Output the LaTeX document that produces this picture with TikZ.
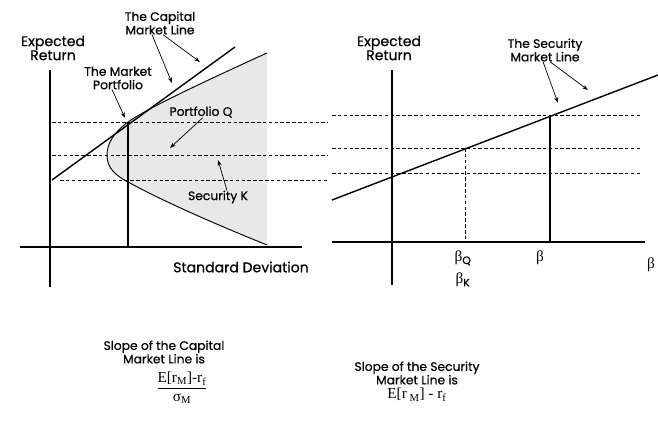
\documentclass[tikz,border=0pt]{standalone}
\usepackage{fontspec}
\setmainfont{Poppins}[UprightFeatures={FakeBold=0.6}]
\newfontfamily\formfont{Liberation Serif}
\usetikzlibrary{arrows.meta}
\begin{document}
\begin{tikzpicture}[x=0.03cm, y=-0.03cm,
    lbl/.style={align=center, font=\fontsize{10.5}{11.5}\selectfont, inner sep=0pt},
    axlbl/.style={lbl, font=\fontsize{12}{12}\selectfont},
    frm/.style={inner sep=0pt, font=\formfont\fontsize{13}{15}\selectfont},
    ptr/.style={-{Stealth[length=5pt,width=3.5pt]}, line width=0.6pt},
    guide/.style={densely dashed, line width=0.6pt},
    axis/.style={line width=0.9pt}]
    \useasboundingbox (0,0) rectangle (658,428);

    % left panel: capital market line
    \fill[gray!18] (267,53) .. controls (190,88) and (145,110) .. (128,122)
        .. controls (112,134) and (107,145) .. (107,155)
        .. controls (107,168) and (115,175) .. (128,182)
        .. controls (170,205) and (230,230) .. (267,245) -- cycle;
    \draw[axis] (20,247) -- (302,247);
    \draw[axis] (50,70) -- (50,287);
    \foreach \y/\s in {122/52, 155/52, 180/60}
        \draw[guide] (\s,\y) -- (328,\y);
    \draw[axis] (128,122) -- (128,247);
    \draw[line width=0.8pt] (267,53) .. controls (190,88) and (145,110) .. (128,122)
        .. controls (112,134) and (107,145) .. (107,155)
        .. controls (107,168) and (115,175) .. (128,182)
        .. controls (170,205) and (230,230) .. (267,245);
    \draw[line width=1.2pt] (52,180) -- (235,47);

    \coordinate (cmlA) at (172,83);
    \coordinate (cmlB) at (200,62);
    \coordinate (mkt) at (125,118);
    \coordinate (ptQ) at (170,148);
    \coordinate (secK) at (218,160);

    \node[axlbl] (erL) at (53,48) {Expected\\Return};
    \node[lbl] (cml) at (160,23) {The Capital\\Market Line};
    \node[lbl] (mp) at (118,78) {The Market\\Portfolio};
    \node[lbl] (pq) at (201,112) {Portfolio Q};
    \node[lbl] (sk) at (218,197) {Security K};
    \node[axlbl] (sd) at (241,267) {Standard Deviation};

    \draw[ptr] ([xshift=-0.24cm]cml.south) -- (cmlA);
    \draw[ptr] ([xshift=0.09cm]cml.south) -- (cmlB);
    \draw[ptr] ([xshift=-0.18cm]mp.south) -- (mkt);
    \draw[ptr] ([xshift=0.05cm]pq.south) -- (ptQ);
    \draw[ptr] ([xshift=0.27cm]sk.north) -- (secK);

    % right panel: security market line
    \draw[axis] (332,242) -- (645,242);
    \draw[axis] (392,70) -- (392,285);
    \foreach \y in {115,148,173}
        \draw[guide] (332,\y) -- (640,\y);
    \draw[guide] (465,148) -- (465,242);
    \draw[axis] (550,115) -- (550,242);
    \draw[line width=1.2pt] (332,200) -- (658,75);

    \coordinate (smlA) at (558,103);
    \coordinate (smlB) at (588,90);

    \node[axlbl] (erR) at (389,48) {Expected\\Return};
    \node[lbl] (sml) at (545,50) {The Security\\Market Line};
    \draw[ptr] ([xshift=-0.06cm]sml.south) -- (smlA);
    \draw[ptr] ([xshift=0.15cm]sml.south) -- (smlB);

    \node[frm] (bq) at (463,258) {β\textsubscript{\rmfamily Q}};
    \node[frm] (bk) at (463,280) {β\textsubscript{\rmfamily K}};
    \node[frm] (bm) at (540,258) {β};
    \node[frm] (bx) at (651,265) {β};

    % slopes
    \node[lbl] (cmlslope) at (164,352) {Slope of the Capital\\Market Line is};
    \node[frm] (cmlfrac) at (182,388)
        {$\displaystyle\frac{\mbox{E[r\textsubscript{M}]-r\textsubscript{f}}}{\mbox{σ\textsubscript{M}}}$};
    \node[lbl] (smlslope) at (417,373) {Slope of the Security\\Market Line is};
    \node[frm] (smlform) at (417,395) {E[r\textsubscript{ M}] - r\textsubscript{f}};
\end{tikzpicture}
\end{document}
